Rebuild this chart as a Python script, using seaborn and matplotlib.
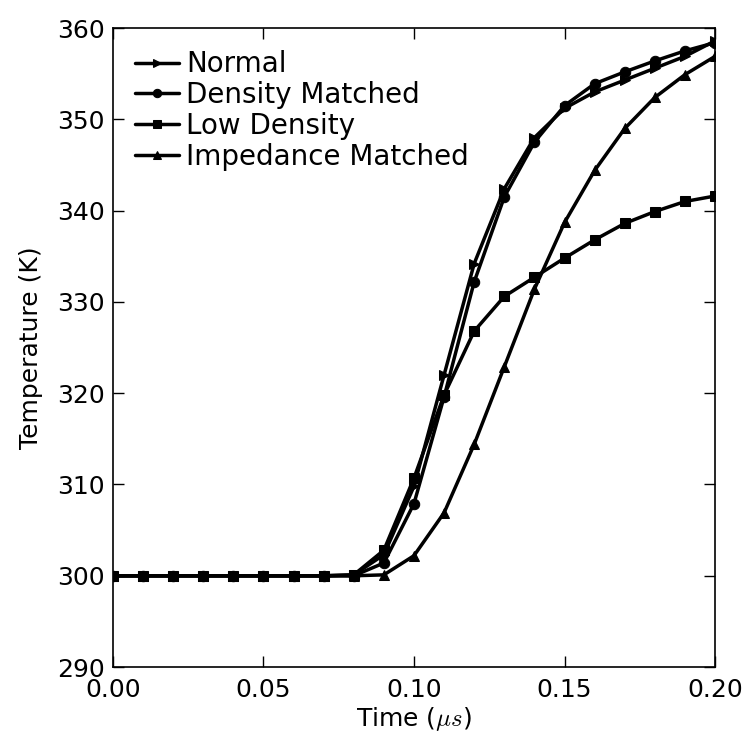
import numpy as np
import pandas as pd
import matplotlib
matplotlib.use("Agg")
import matplotlib.pyplot as plt
import seaborn as sns

# time axis (microseconds), markers every 0.01
time_us = [0.00, 0.01, 0.02, 0.03, 0.04, 0.05, 0.06, 0.07, 0.08, 0.09, 0.10,
           0.11, 0.12, 0.13, 0.14, 0.15, 0.16, 0.17, 0.18, 0.19, 0.20]

normal = [300.0, 300.0, 300.0, 300.0, 300.0, 300.0, 300.0, 300.0, 300.1, 302.3, 309.8,
          322.0, 334.2, 342.4, 348.0, 351.2, 353.0, 354.3, 355.6, 356.9, 358.6]
density_matched = [300.0, 300.0, 300.0, 300.0, 300.0, 300.0, 300.0, 300.0, 300.0, 301.4, 307.9,
                   319.6, 332.2, 341.5, 347.5, 351.5, 353.9, 355.2, 356.4, 357.5, 358.4]
low_density = [300.0, 300.0, 300.0, 300.0, 300.0, 300.0, 300.0, 300.0, 300.1, 302.8, 310.7,
               319.8, 326.8, 330.6, 332.7, 334.8, 336.8, 338.6, 339.9, 341.0, 341.6]
impedance_matched = [300.0, 300.0, 300.0, 300.0, 300.0, 300.0, 300.0, 300.0, 300.0, 300.1, 302.2,
                     306.9, 314.4, 322.9, 331.4, 338.7, 344.4, 349.0, 352.4, 354.9, 356.9]

series = [("Normal", normal, ">"),
          ("Density Matched", density_matched, "o"),
          ("Low Density", low_density, "s"),
          ("Impedance Matched", impedance_matched, "^")]

sns.set_style("ticks")
plt.rcParams['font.family'] = ['DejaVu Sans']
plt.rcParams['mathtext.fontset'] = 'cm'
plt.rcParams['font.size'] = 18
for key in ['text.color', 'axes.labelcolor', 'xtick.color', 'ytick.color', 'axes.edgecolor']:
    plt.rcParams[key] = 'black'

fig = plt.figure(figsize=(7.52, 7.47), dpi=100)
ax = fig.add_axes([0.150, 0.107, 0.801, 0.8555])

for name, vals, mk in series:
    df = pd.DataFrame({"t": time_us, "T": vals})
    sns.lineplot(data=df, x="t", y="T", ax=ax, color="black", linewidth=2.5,
                 marker=mk, markersize=7.5, markeredgecolor="black",
                 label=name)

ax.set_xlim(0.0, 0.2)
ax.set_ylim(290, 360)
ax.set_xticks([0.00, 0.05, 0.10, 0.15, 0.20])
ax.set_xticklabels(["0.00", "0.05", "0.10", "0.15", "0.20"])
ax.set_yticks(np.arange(290, 361, 10))
ax.tick_params(direction="in", top=True, right=True, length=8, width=1,
               labelsize=18)
ax.tick_params(axis="x", pad=8)
ax.tick_params(axis="y", pad=6)
for sp in ax.spines.values():
    sp.set_linewidth(1.2)
ax.set_xlabel(r"Time ($\mu s$)", fontsize=18, labelpad=2)
ax.set_ylabel("Temperature (K)", fontsize=18, labelpad=10)

leg = ax.legend(loc="upper left", frameon=False, fontsize=20,
                handlelength=1.6, handletextpad=0.25, labelspacing=0.1,
                borderaxespad=0.4, markerscale=0.8)

fig.savefig("out.png", dpi=100)
